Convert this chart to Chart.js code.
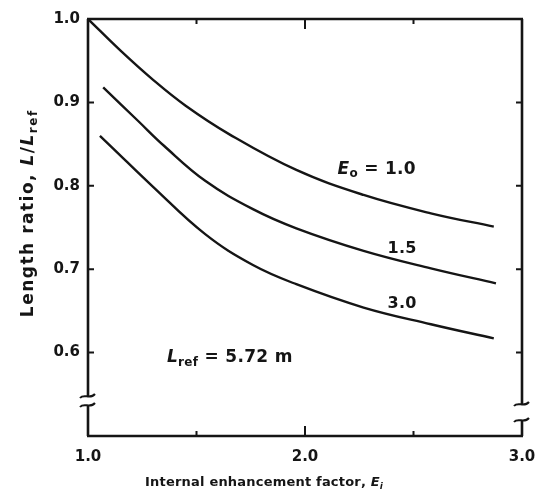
<!DOCTYPE html>
<html lang="en">
<head>
  <meta charset="UTF-8">
  <title>Length ratio vs internal enhancement factor</title>
  <script src="https://cdn.jsdelivr.net/npm/chart.js"></script>
  <style>
    body {
      margin: 0;
      background-color: #ffffff;
    }
    .chart-box {
      width: 537px;
      height: 500px;
    }
  </style>
</head>
<body>
  <div class="chart-box">
    <canvas id="lengthChart"></canvas>
  </div>

  <script>
    // Curves, one per outside enhancement factor E_o
    const x_Eo10 = [1.0, 1.15, 1.30, 1.45, 1.65, 1.96, 2.27, 2.58, 2.87];
    const y_Eo10 = [1.0, 0.962, 0.927, 0.896, 0.862, 0.819, 0.789, 0.767, 0.751];

    const x_Eo15 = [1.07, 1.23, 1.35, 1.54, 1.76, 1.96, 2.27, 2.58, 2.88];
    const y_Eo15 = [0.918, 0.878, 0.848, 0.806, 0.772, 0.749, 0.722, 0.701, 0.683];

    const x_Eo30 = [1.055, 1.115, 1.295, 1.54, 1.76, 1.96, 2.27, 2.58, 2.87];
    const y_Eo30 = [0.860, 0.845, 0.800, 0.742, 0.705, 0.682, 0.654, 0.634, 0.617];

    // Axis ticks
    const xMajorTicks = [1.0, 2.0, 3.0];
    const xMinorTicks = [1.5, 2.5];
    const yTicks = [0.6, 0.7, 0.8, 0.9, 1.0];

    const INK = '#151515';
    const FONT = '"DejaVu Sans", sans-serif';

    function toPoints(xs, ys) {
      return xs.map((x, i) => ({ x: x, y: ys[i] }));
    }

    function curve(xs, ys) {
      return {
        data: toPoints(xs, ys),
        borderColor: INK,
        borderWidth: 2.4,
        pointRadius: 0,
        fill: false,
        tension: 0.4
      };
    }

    // draw text made of runs: {t, italic, sub}, with extra letter spacing
    function drawRuns(ctx, x, y, runs, size, align, spacing) {
      spacing = spacing || 0;
      const pieces = [];
      runs.forEach(r => {
        const s = r.sub ? Math.round(size * 0.72) : size;
        const font = (r.italic ? 'italic ' : '') + 'bold ' + s + 'px ' + FONT;
        ctx.font = font;
        for (const ch of r.t) {
          pieces.push({ t: ch, font: font, w: ctx.measureText(ch).width + spacing, dy: r.sub ? size * 0.3 : 0 });
        }
      });
      const total = pieces.reduce((a, p) => a + p.w, 0) - spacing;
      let cx = align === 'left' ? x : x - total / 2;
      ctx.textAlign = 'left';
      ctx.textBaseline = 'middle';
      pieces.forEach(p => {
        ctx.font = p.font;
        ctx.fillText(p.t, cx, y + p.dy);
        cx += p.w;
      });
    }

    function squiggle(ctx, x, y) {
      ctx.beginPath();
      ctx.moveTo(x - 8, y + 2);
      ctx.bezierCurveTo(x - 4, y - 3, x + 2, y + 4, x + 7, y - 2);
      ctx.stroke();
    }

    const framePlugin = {
      id: 'frame',
      afterDraw(chart) {
        const ctx = chart.ctx;
        const xs = chart.scales.x;
        const ys = chart.scales.y;
        const L = xs.left, R = xs.right, T = ys.top, B = ys.bottom;

        ctx.save();
        ctx.strokeStyle = INK;
        ctx.fillStyle = INK;
        ctx.lineWidth = 2.6;
        ctx.lineCap = 'butt';

        // top and bottom
        ctx.beginPath();
        ctx.moveTo(L - 1, T); ctx.lineTo(R + 1, T);
        ctx.moveTo(L - 1, B); ctx.lineTo(R + 1, B);
        ctx.stroke();

        // sides with axis breaks
        ctx.beginPath();
        ctx.moveTo(L, T); ctx.lineTo(L, 396);
        ctx.moveTo(L, 405); ctx.lineTo(L, B);
        ctx.moveTo(R, T); ctx.lineTo(R, 404);
        ctx.moveTo(R, 420); ctx.lineTo(R, B);
        ctx.stroke();
        ctx.lineWidth = 2;
        squiggle(ctx, L, 396);
        squiggle(ctx, L, 405);
        squiggle(ctx, R, 404);
        squiggle(ctx, R, 420);

        // inward ticks
        ctx.lineWidth = 2;
        ctx.beginPath();
        yTicks.forEach(v => {
          if (v >= 1.0) return;
          const py = ys.getPixelForValue(v);
          ctx.moveTo(L, py); ctx.lineTo(L + 6, py);
          ctx.moveTo(R, py); ctx.lineTo(R - 6, py);
        });
        xMajorTicks.forEach(v => {
          if (v <= 1.0 || v >= 3.0) return;
          const px = xs.getPixelForValue(v);
          ctx.moveTo(px, T); ctx.lineTo(px, T + 10);
          ctx.moveTo(px, B); ctx.lineTo(px, B - 10);
        });
        xMinorTicks.forEach(v => {
          const px = xs.getPixelForValue(v);
          ctx.moveTo(px, T); ctx.lineTo(px, T + 5);
          ctx.moveTo(px, B); ctx.lineTo(px, B - 5);
        });
        ctx.stroke();

        // curve labels
        drawRuns(ctx, xs.getPixelForValue(2.33), ys.getPixelForValue(0.820),
          [{ t: 'E', italic: true }, { t: 'o', sub: true }, { t: ' = 1.0' }], 17, 'center', 0.3);
        drawRuns(ctx, xs.getPixelForValue(2.447), ys.getPixelForValue(0.725),
          [{ t: '1.5' }], 16, 'center', 0.3);
        drawRuns(ctx, xs.getPixelForValue(2.447), ys.getPixelForValue(0.659),
          [{ t: '3.0' }], 16, 'center', 0.3);
        drawRuns(ctx, xs.getPixelForValue(1.364), ys.getPixelForValue(0.594),
          [{ t: 'L', italic: true }, { t: 'ref', sub: true }, { t: ' = 5.72 m' }], 17, 'left', 0.3);

        // axis titles
        drawRuns(ctx, 264, 483,
          [{ t: 'Internal enhancement factor, ' }, { t: 'E', italic: true }, { t: 'i', italic: true, sub: true }], 13, 'center', 0.2);

        ctx.translate(29, 214);
        ctx.rotate(-Math.PI / 2);
        drawRuns(ctx, 0, 0,
          [{ t: 'Length ratio, ' }, { t: 'L', italic: true }, { t: '/' }, { t: 'L', italic: true }, { t: 'ref', sub: true }], 17, 'center', 1.5);
        ctx.restore();
      }
    };

    const ctx = document.getElementById('lengthChart').getContext('2d');

    const lengthChart = new Chart(ctx, {
      type: 'line',
      data: {
        datasets: [curve(x_Eo10, y_Eo10), curve(x_Eo15, y_Eo15), curve(x_Eo30, y_Eo30)]
      },
      options: {
        responsive: true,
        maintainAspectRatio: false,
        animation: false,
        layout: { padding: { top: 19, right: 15, left: 0, bottom: 0 } },
        plugins: {
          legend: { display: false },
          tooltip: { enabled: false }
        },
        scales: {
          x: {
            type: 'linear',
            min: 1,
            max: 3,
            grid: { display: false, drawTicks: false },
            border: { display: false },
            afterBuildTicks: scale => { scale.ticks = xMajorTicks.map(v => ({ value: v })); },
            afterFit: scale => {
              scale.height = 64;
              scale.paddingRight = 0;
            },
            ticks: {
              padding: 12,
              color: INK,
              maxRotation: 0,
              font: { family: FONT, size: 15, weight: 'bold' },
              callback: v => v.toFixed(1)
            }
          },
          y: {
            min: 0.5,
            max: 1.0,
            grid: { display: false, drawTicks: false },
            border: { display: false },
            afterBuildTicks: scale => { scale.ticks = yTicks.map(v => ({ value: v })); },
            afterFit: scale => { scale.width = 88; },
            ticks: {
              padding: 8,
              color: INK,
              font: { family: FONT, size: 15, weight: 'bold' },
              callback: v => v.toFixed(1)
            }
          }
        }
      },
      plugins: [framePlugin]
    });
  </script>
</body>
</html>
